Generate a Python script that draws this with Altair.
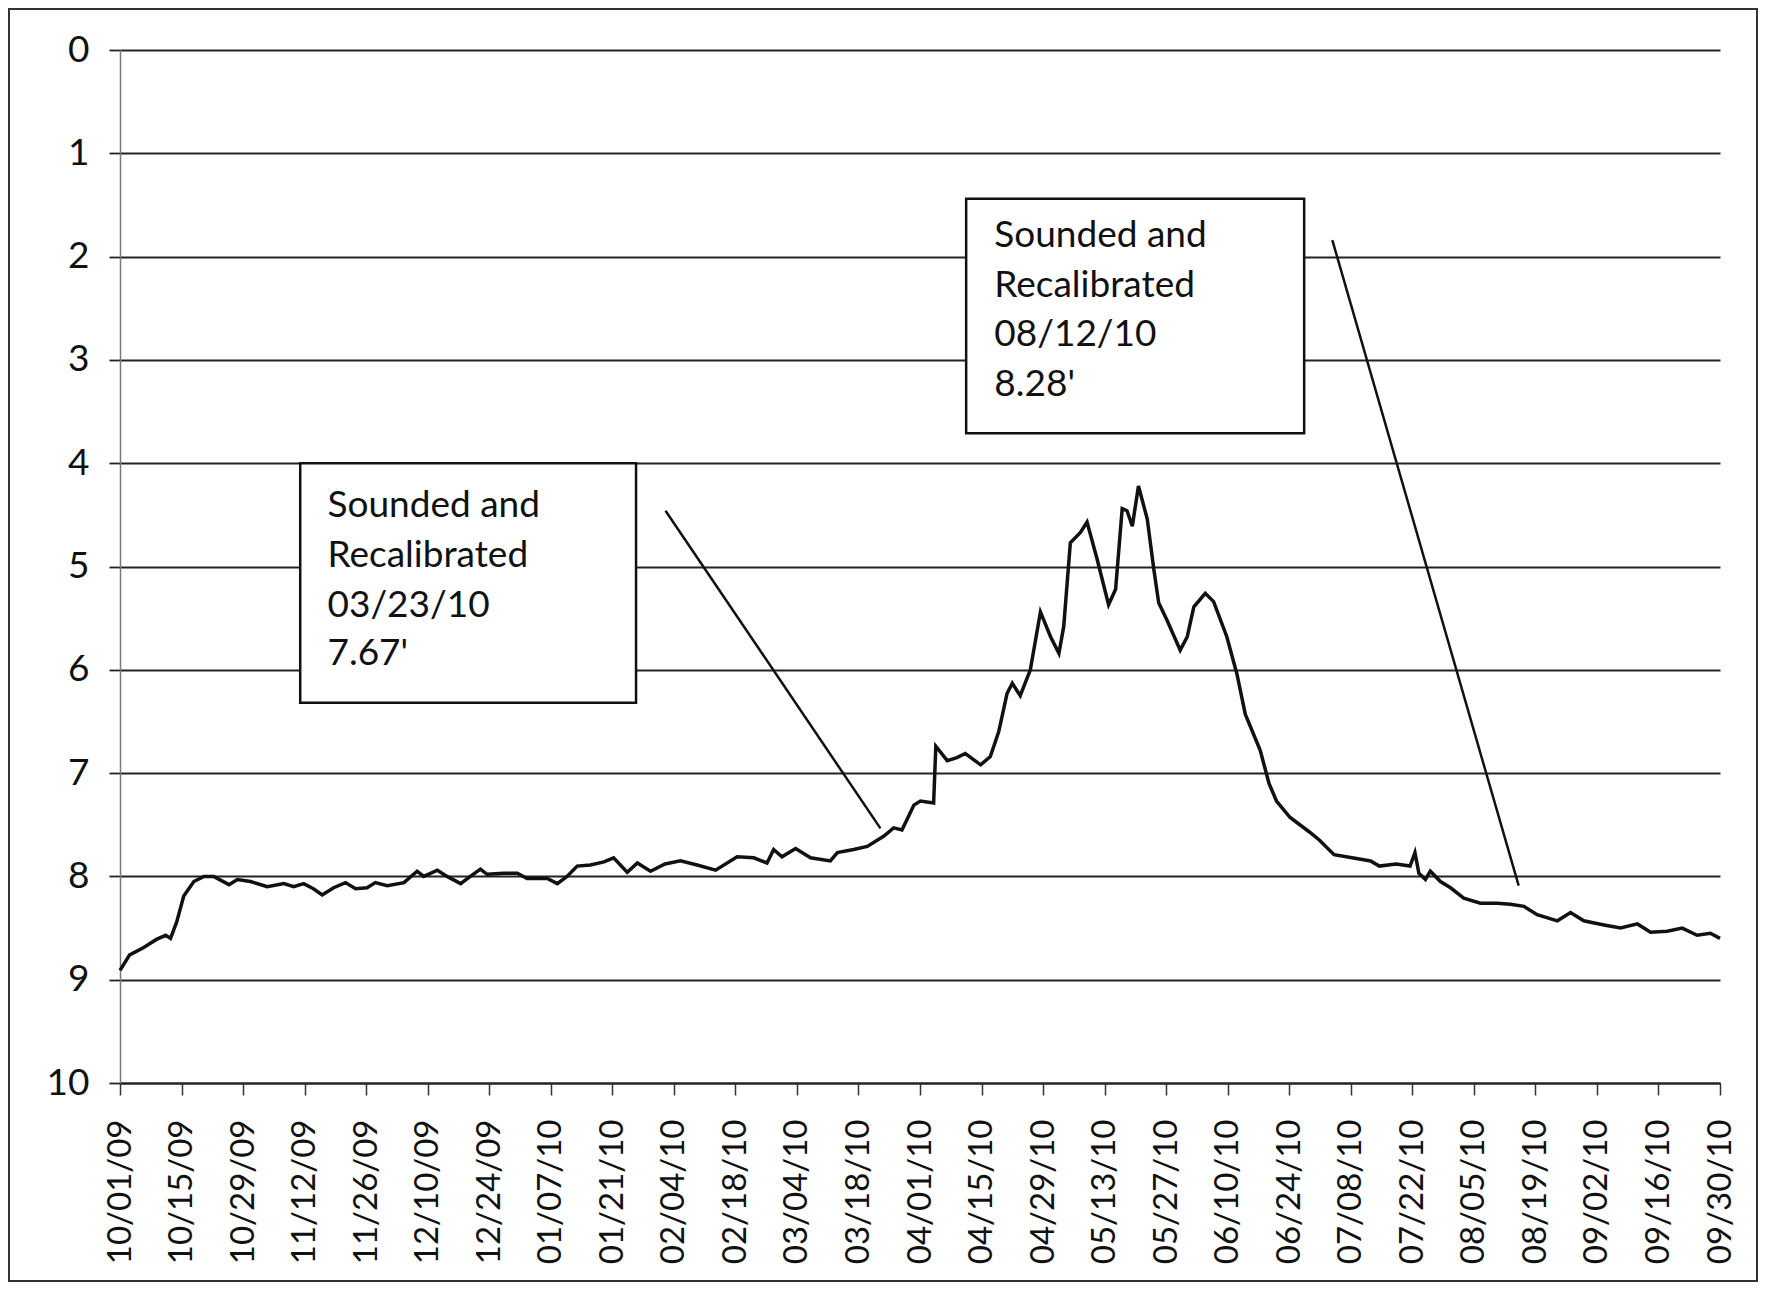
import json
import altair as alt
import pandas as pd

# ---------------- data ----------------
tick_labels = ["10/01/09", "10/15/09", "10/29/09", "11/12/09", "11/26/09", "12/10/09",
               "12/24/09", "01/07/10", "01/21/10", "02/04/10", "02/18/10", "03/04/10",
               "03/18/10", "04/01/10", "04/15/10", "04/29/10", "05/13/10", "05/27/10",
               "06/10/10", "06/24/10", "07/08/10", "07/22/10", "08/05/10", "08/19/10",
               "09/02/10", "09/16/10", "09/30/10"]
tick_days = [14 * i for i in range(len(tick_labels))]   # days since 10/01/09
y_ticks = list(range(0, 11))

# days since 10/01/09 and depth (ft)
days = [0, 2.2, 5.3, 8.3, 10.4, 11.5, 12.9, 14.5, 16.8, 19.1, 21.3, 24.8, 26.7, 29.7,
        33.5, 37.3, 39.5, 41.8, 44, 46, 48.6, 51.3, 53.6, 56.2, 58.1, 60.8, 64.6, 67.6,
        69.1, 72.2, 74.4, 77.5, 79.7, 82.0, 83.5, 87.3, 90.4, 92.6, 97.2, 99.5, 101.7,
        104.0, 107.0, 110.1, 112.3, 115.4, 117.7, 120.7, 124, 127.5, 131.3, 135.5,
        140.4, 144.2, 147.2, 148.7, 150.6, 153.7, 157.1, 161.6, 163.2, 166.9, 170.0,
        173.8, 176.0, 177.9, 180.6, 182.1, 185.1, 185.6, 188.2, 190.4, 192.3, 195.8,
        198, 199.9, 201.8, 203, 204.8, 207.1, 209.4, 211.7, 213.6, 214.7, 216.2, 218.5,
        220, 222.3, 224.9, 226.5, 228, 229.1, 230.3, 231.7, 233.7, 235.2, 236.3, 238.2,
        241.2, 242.8, 244.3, 246.9, 248.8, 251.8, 254.1, 256, 259.4, 261.4, 263.1,
        266.2, 270.6, 272.9, 276.2, 280.3, 284.5, 286.5, 290.3, 293.5, 294.6, 295.5,
        297, 298.1, 300.4, 302.7, 305.7, 309.5, 313.3, 316.3, 319.4, 322.4, 327, 330,
        333, 337.6, 341.4, 345.2, 348.2, 352, 355.4, 358.8, 361.8, 364]
depth = [8.91, 8.76, 8.69, 8.61, 8.57, 8.60, 8.44, 8.19, 8.05, 8.00, 8.00, 8.08, 8.03,
         8.05, 8.10, 8.07, 8.10, 8.07, 8.12, 8.18, 8.11, 8.06, 8.12, 8.11, 8.06, 8.09,
         8.06, 7.95, 8.00, 7.94, 8.00, 8.07, 8.00, 7.93, 7.98, 7.97, 7.97, 8.02, 8.02,
         8.07, 8.00, 7.90, 7.89, 7.86, 7.82, 7.96, 7.87, 7.95, 7.88, 7.85, 7.89, 7.94,
         7.81, 7.82, 7.87, 7.74, 7.81, 7.73, 7.82, 7.85, 7.77, 7.74, 7.71, 7.61, 7.53,
         7.55, 7.31, 7.27, 7.29, 6.74, 6.88, 6.85, 6.81, 6.92, 6.84, 6.60, 6.23, 6.13,
         6.25, 6.00, 5.44, 5.68, 5.84, 5.58, 4.77, 4.67, 4.57, 4.93, 5.37, 5.22, 4.44,
         4.46, 4.61, 4.22, 4.54, 5.03, 5.35, 5.52, 5.81, 5.68, 5.39, 5.26, 5.34, 5.68,
         6.04, 6.43, 6.78, 7.10, 7.27, 7.43, 7.57, 7.65, 7.79, 7.82, 7.85, 7.90, 7.88,
         7.90, 7.77, 7.97, 8.03, 7.95, 8.05, 8.11, 8.21, 8.26, 8.26, 8.27, 8.29, 8.37,
         8.43, 8.35, 8.43, 8.47, 8.50, 8.46, 8.54, 8.53, 8.50, 8.57, 8.55, 8.60]

# annotation boxes (data coordinates: day, depth)
box_x = [41.0, 192.5]
box_x2 = [117.4, 269.4]
box_y = [4.00, 1.44]
box_y2 = [6.32, 3.71]
note_text = [["Sounded and", "Recalibrated", "03/23/10", "7.67'"],
             ["Sounded and", "Recalibrated", "08/12/10", "8.28'"]]
note_x = [47.2, 198.9]
note_y = [[4.41, 4.90, 5.38, 5.85], [1.80, 2.28, 2.76, 3.24]]
pointer_x = [124.1, 275.8]
pointer_x2 = [173.0, 318.2]
pointer_y = [4.46, 1.84]
pointer_y2 = [7.535, 8.09]

# ---------------- tables ----------------
n = min(len(days), len(depth))
series = pd.DataFrame({"day": days[:n], "depth": depth[:n]})
boxes = pd.DataFrame({"x": box_x, "x2": box_x2, "y": box_y, "y2": box_y2})
notes = pd.DataFrame([
    {"x": note_x[i], "y": note_y[i][j], "t": note_text[i][j]}
    for i in range(len(note_text)) for j in range(len(note_text[i]))
])
pointers = pd.DataFrame({"x": pointer_x, "x2": pointer_x2, "y": pointer_y, "y2": pointer_y2})

label_expr = json.dumps(tick_labels) + "[round(datum.value / 14)]"

xscale = alt.Scale(domain=[0, 364], nice=False, zero=False)
yscale = alt.Scale(domain=[0, 10], reverse=True, nice=False)

xaxis = alt.Axis(values=tick_days, labelExpr=label_expr, labelAngle=270,
                 labelAlign="right", labelBaseline="middle", labelFont="Lato",
                 labelFontSize=33, labelColor="#111", labelPadding=24,
                 tickSize=12, tickColor="#333", tickWidth=1.5, grid=False,
                 domainColor="#222", domainWidth=2, labelOverlap=False,
                 labelFlush=False, title=None)
yaxis = alt.Axis(values=y_ticks, format="d", labelFont="Lato", labelFontSize=37,
                 labelColor="#111", labelPadding=20, tickSize=11, tickColor="#222",
                 tickWidth=1.8, grid=True, gridColor="#222", gridWidth=1.8,
                 domainColor="#777", domainWidth=1.5, title=None)

line = alt.Chart(series).mark_line(color="#111", strokeWidth=3.5).encode(
    x=alt.X("day:Q", scale=xscale, axis=xaxis),
    y=alt.Y("depth:Q", scale=yscale, axis=yaxis),
)

box_layer = alt.Chart(boxes).mark_rect(fill="white", stroke="#111", strokeWidth=2.5).encode(
    x=alt.X("x:Q", scale=xscale), x2="x2:Q",
    y=alt.Y("y:Q", scale=yscale), y2="y2:Q",
)

text_layer = alt.Chart(notes).mark_text(align="left", baseline="middle", font="Lato",
                                        fontSize=37, color="#111").encode(
    x=alt.X("x:Q", scale=xscale), y=alt.Y("y:Q", scale=yscale), text="t:N"
)

pointer_layer = alt.Chart(pointers).mark_rule(color="#111", strokeWidth=2.5).encode(
    x=alt.X("x:Q", scale=xscale), x2="x2:Q",
    y=alt.Y("y:Q", scale=yscale), y2="y2:Q",
)

frame = alt.Chart(pd.DataFrame({"a": [0]})).mark_rect(
    fillOpacity=0, stroke="#333", strokeWidth=2).encode(
    x=alt.value(-111), x2=alt.value(1637), y=alt.value(-41), y2=alt.value(1231)
)

chart = alt.layer(line, box_layer, pointer_layer, text_layer, frame).properties(
    width=1600, height=1033,
    padding={"left": 112, "top": 42, "right": 38, "bottom": 200},
    autosize=alt.AutoSizeParams(type="none"),
    background="white",
).configure_view(stroke=None)

chart.save("out.html", embed_options={"renderer": "svg", "actions": False})
